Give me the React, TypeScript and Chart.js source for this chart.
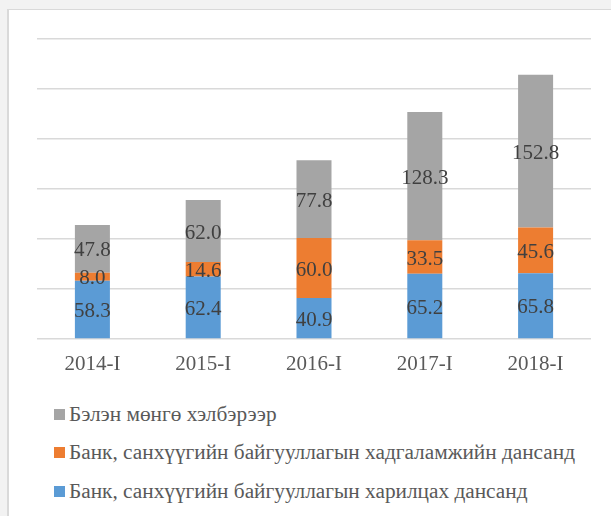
import React, { useEffect, useRef } from "react";
import { Chart, registerables } from "chart.js";

Chart.register(...registerables);

const categories = ["2014-I", "2015-I", "2016-I", "2017-I", "2018-I"];
const currentAccount = [58.3, 62.4, 40.9, 65.2, 65.8];
const savingsAccount = [8.0, 14.6, 60.0, 33.5, 45.6];
const cash = [47.8, 62.0, 77.8, 128.3, 152.8];

const labelCurrent = "Банк, санхүүгийн байгууллагын харилцах дансанд";
const labelSavings = "Банк, санхүүгийн байгууллагын хадгаламжийн дансанд";
const labelCash = "Бэлэн мөнгө хэлбэрээр";

const colorCurrent = "#5b9bd5";
const colorSavings = "#ed7d31";
const colorCash = "#a5a5a5";

const FONT = "'Liberation Serif', 'Times New Roman', serif";

const legendItems = [
  { label: labelCash, color: colorCash },
  { label: labelSavings, color: colorSavings },
  { label: labelCurrent, color: colorCurrent },
];

const dataLabelPlugin = {
  id: "dataLabels",
  afterDatasetsDraw(chart: any) {
    const ctx = chart.ctx;
    ctx.save();
    ctx.font = `21px ${FONT}`;
    ctx.fillStyle = "#404040";
    ctx.textAlign = "center";
    ctx.textBaseline = "middle";
    chart.data.datasets.forEach((ds: any, di: number) => {
      const meta = chart.getDatasetMeta(di);
      meta.data.forEach((el: any, i: number) => {
        const v = ds.data[i];
        const p = el.getProps(["x", "y", "base"], true);
        const cy = (p.y + p.base) / 2 + 2;
        ctx.fillText(v.toFixed(1), p.x, cy);
      });
    });
    ctx.restore();
  },
};

export default function App() {
  const ref = useRef<HTMLCanvasElement | null>(null);

  useEffect(() => {
    if (!ref.current) return;
    const chart = new Chart(ref.current, {
      type: "bar",
      data: {
        labels: categories,
        datasets: [
          { label: labelCurrent, data: currentAccount, backgroundColor: colorCurrent },
          { label: labelSavings, data: savingsAccount, backgroundColor: colorSavings },
          { label: labelCash, data: cash, backgroundColor: colorCash },
        ],
      },
      options: {
        animation: false,
        responsive: false,
        maintainAspectRatio: false,
        devicePixelRatio: 1,
        layout: { padding: { left: 37, right: 20, top: 39, bottom: 0 } },
        datasets: { bar: { categoryPercentage: 1, barPercentage: 0.316 } } as any,
        plugins: {
          legend: { display: false },
          tooltip: { enabled: false },
          title: { display: false },
        },
        scales: {
          x: {
            stacked: true,
            grid: { display: false, drawTicks: false },
            border: { display: false },
            ticks: {
              color: "#595959",
              font: { family: FONT, size: 21 },
              padding: 13,
              maxRotation: 0,
            },
            afterFit: (s: any) => {
              s.height = 41;
            },
          },
          y: {
            stacked: true,
            min: 0,
            max: 300,
            grid: { color: "#d9d9d9", lineWidth: 1.5, drawTicks: false },
            border: { display: false },
            ticks: { display: false, stepSize: 50 },
            afterFit: (s: any) => {
              s.width = 0;
            },
          },
        },
      },
      plugins: [dataLabelPlugin],
    });
    return () => chart.destroy();
  }, []);

  return (
    <div
      style={{
        position: "fixed",
        left: 0,
        top: 0,
        width: 611,
        height: 516,
        background: "#f2f2f2",
        overflow: "hidden",
      }}
    >
      <div
        style={{
          position: "absolute",
          left: 7,
          top: 9,
          width: 620,
          height: 520,
          background: "#ffffff",
          borderLeft: "2px solid #d9d9d9",
          borderTop: "1px solid #d9d9d9",
        }}
      />
      <canvas
        ref={ref}
        width={611}
        height={380}
        style={{ position: "absolute", left: 0, top: 0, width: 611, height: 380 }}
      />
      {legendItems.map((it, i) => (
        <div
          key={i}
          style={{
            position: "absolute",
            left: 54,
            top: 414 + i * 38.8 - 14,
            height: 28,
            display: "flex",
            alignItems: "center",
            whiteSpace: "nowrap",
            fontFamily: FONT,
            fontSize: 21.3,
            color: "#595959",
          }}
        >
          <span
            style={{
              display: "inline-block",
              width: 11,
              height: 11,
              background: it.color,
              marginRight: 4,
            }}
          />
          <span>{it.label}</span>
        </div>
      ))}
    </div>
  );
}
